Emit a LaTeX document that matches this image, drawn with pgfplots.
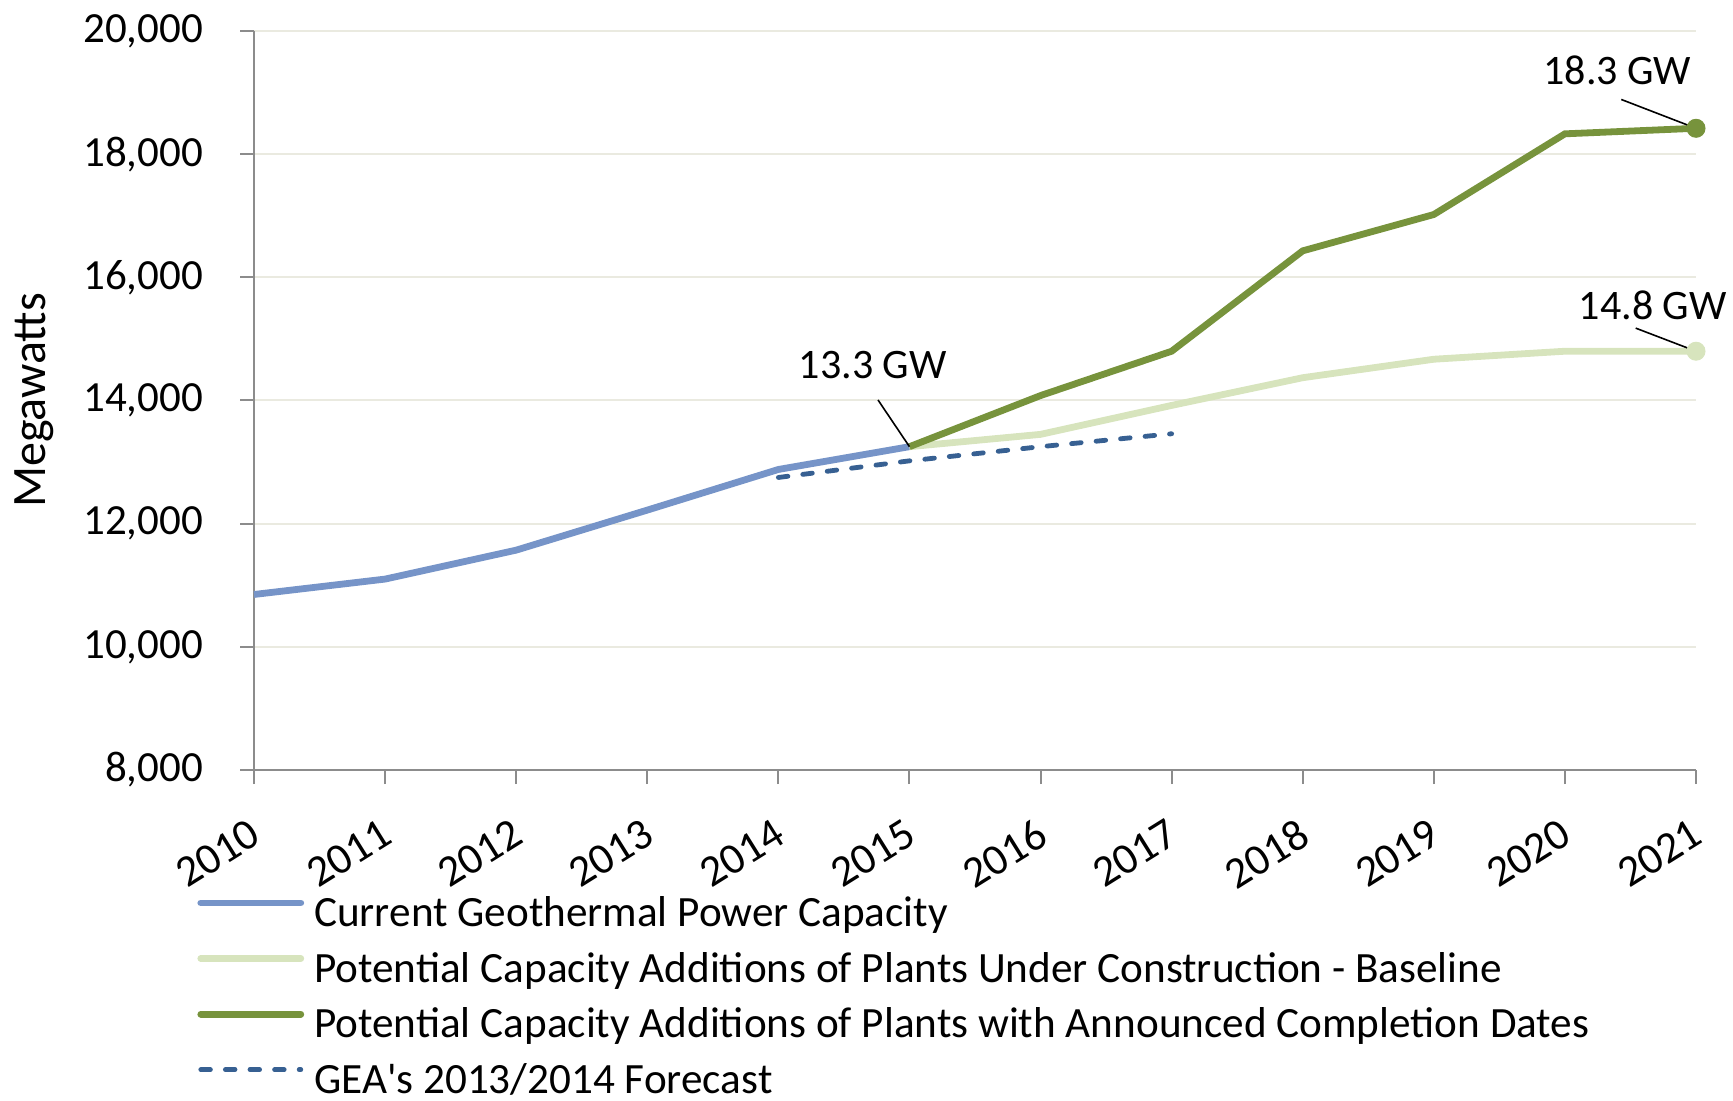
\documentclass[border=0pt]{standalone}
\usepackage{fontspec}
\setmainfont{Carlito}[Ligatures=TeXOff]
\usepackage{pgfplots}
\pgfplotsset{compat=1.18}
\definecolor{cblue}{RGB}{118,148,200}
\definecolor{clgreen}{RGB}{215,228,189}
\definecolor{cdgreen}{RGB}{119,147,60}
\definecolor{cdash}{RGB}{55,96,146}
\definecolor{axisgray}{RGB}{140,140,140}
\definecolor{gridc}{RGB}{234,234,224}
\newcommand{\bigf}{\fontsize{21}{25}\selectfont}
\begin{document}
\begin{tikzpicture}
\useasboundingbox (-127pt,-165.5pt) rectangle (739.5pt,385pt);
\begin{axis}[
  scale only axis, width=721pt, height=369.5pt,
  xmin=2010, xmax=2021, ymin=8000, ymax=20000,
  axis lines=left, axis line style={-, draw=axisgray, line width=1pt},
  xtick={2010,2011,...,2021}, ytick={8000,10000,...,20000},
  scaled y ticks=false,
  tick align=outside, major tick length=7pt,
  tick style={draw=axisgray, line width=1pt},
  ymajorgrids, grid style={draw=gridc, line width=1pt},
  /pgf/number format/assume math mode=true,
  yticklabel style={/pgf/number format/1000 sep={,}, font=\fontsize{21.5}{25}\selectfont, xshift=-15pt},
  xticklabel style={/pgf/number format/1000 sep={}, font=\fontsize{22}{26}\selectfont, rotate=32, anchor=north east, xshift=-8pt, yshift=-9pt},
  ylabel={Megawatts},
  ylabel style={font=\fontsize{24}{28}\selectfont, at={(axis description cs:-0.1525,0.5)}, anchor=center},
  clip=false,
  legend style={at={(axis description cs:0,0)}, anchor=north west, xshift=-28.5pt, yshift=-62.5pt,
    draw=none, fill=none, inner sep=0pt, row sep=7.3pt, column sep=5pt, font=\fontsize{21.6}{25}\selectfont,
    nodes={inner sep=0pt, text height=15.5pt, text depth=5pt}},
  legend cell align=left,
  legend image code/.code={\draw[#1, line cap=round] (0pt,6.5pt) -- (50pt,6.5pt);},
]
\addplot[cblue, line width=3.4pt] coordinates {(2010,10850)(2011,11100)(2012,11570)(2013,12220)(2014,12880)(2015,13250)};
\addlegendentry{Current Geothermal Power Capacity}
\addplot[clgreen, line width=3.4pt, mark=*, mark indices={7}, mark size=4.5pt, mark options={line width=0.5pt, fill=clgreen}] coordinates {(2015,13250)(2016,13450)(2017,13920)(2018,14370)(2019,14670)(2020,14800)(2021,14800)};
\addlegendentry{Potential Capacity Additions of Plants Under Construction - Baseline}
\addplot[cdgreen, line width=3.4pt, mark=*, mark indices={7}, mark size=4.5pt, mark options={line width=0.5pt, fill=cdgreen}] coordinates {(2015,13250)(2016,14080)(2017,14800)(2018,16430)(2019,17020)(2020,18330)(2021,18420)};
\addlegendentry{Potential Capacity Additions of Plants with Announced Completion Dates}
\addplot[cdash, line width=2.4pt, line cap=round, dash pattern=on 4.8pt off 7.5pt] coordinates {(2014,12750)(2015,13020)(2016,13250)(2017,13460)};
\addlegendentry{GEA's 2013/2014 Forecast}
\draw[black, line width=0.8pt] (axis cs:2015,13250) -- (axis cs:2014.76,14009);
\node[font=\bigf] at (axis cs:2014.72,14583) {13.3 GW};
\draw[black, line width=0.8pt] (axis cs:2021,18420) -- (axis cs:2020.43,18888);
\node[font=\bigf] at (axis cs:2020.40,19354) {18.3 GW};
\draw[black, line width=0.8pt] (axis cs:2021,14800) -- (axis cs:2020.54,15175);
\node[font=\bigf] at (axis cs:2020.67,15552) {14.8 GW};
\end{axis}
\end{tikzpicture}
\end{document}
